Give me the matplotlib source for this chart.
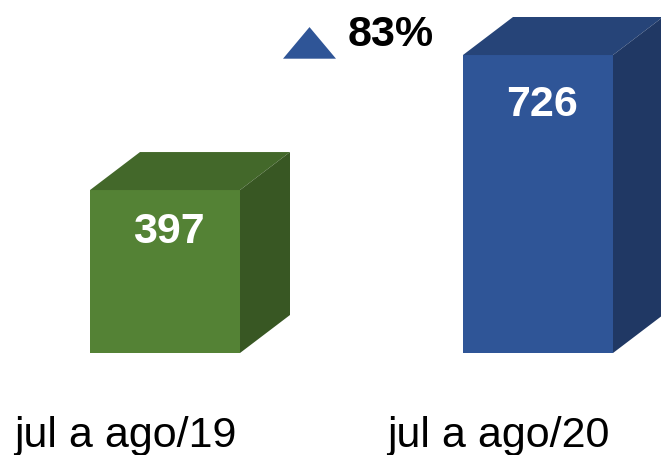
import matplotlib
matplotlib.use("Agg")
import matplotlib.pyplot as plt

plt.rcParams['font.family'] = ['Liberation Sans', 'DejaVu Sans']

labels = ["jul a ago/19", "jul a ago/20"]
valores = [397, 726]
variacao = "83%"

cor_frente = ["#548235", "#2F5597"]
cor_topo = ["#43682A", "#264478"]
cor_lado = ["#385723", "#203864"]

# posicoes em pixels na horizontal, eixo y em unidades dos dados
X_axis = [165, 538]
largura = 150
dx = 50
dy = 38 / 0.4105
desce_valor = [102, 122]

fig = plt.figure(figsize=(6.61, 4.55), dpi=100)
ax = fig.add_axes([0, 0, 1, 1])
ax.set_xlim(0, 661)
ax.set_ylim(-248.5, 860)
ax.axis("off")

for i in range(0, 2):
    ax.bar(X_axis[i], valores[i], largura, color=cor_frente[i])
    esq = X_axis[i] - largura / 2
    dir = X_axis[i] + largura / 2
    v = valores[i]
    # topo e lateral do cubo
    ax.fill([esq, dir, dir + dx, esq + dx], [v, v, v + dy, v + dy], color=cor_topo[i], lw=0)
    ax.fill([dir, dir + dx, dir + dx, dir], [0, dy, v + dy, v], color=cor_lado[i], lw=0)
    ax.text(X_axis[i] + 4, v - desce_valor[i], str(v), color="white", fontsize=31, fontweight="bold",
            ha="center", va="center")
    ax.text(X_axis[i] - 40, -202, labels[i], color="black", fontsize=31,
            ha="center", va="center")

# triangulo da variacao
ax.fill([283, 336, 309.5], [717, 717, 794], color=cor_frente[1], lw=0)
ax.text(391, 775, variacao, color="black", fontsize=31, fontweight="bold",
        ha="center", va="center")

fig.savefig("out.png", dpi=100)
